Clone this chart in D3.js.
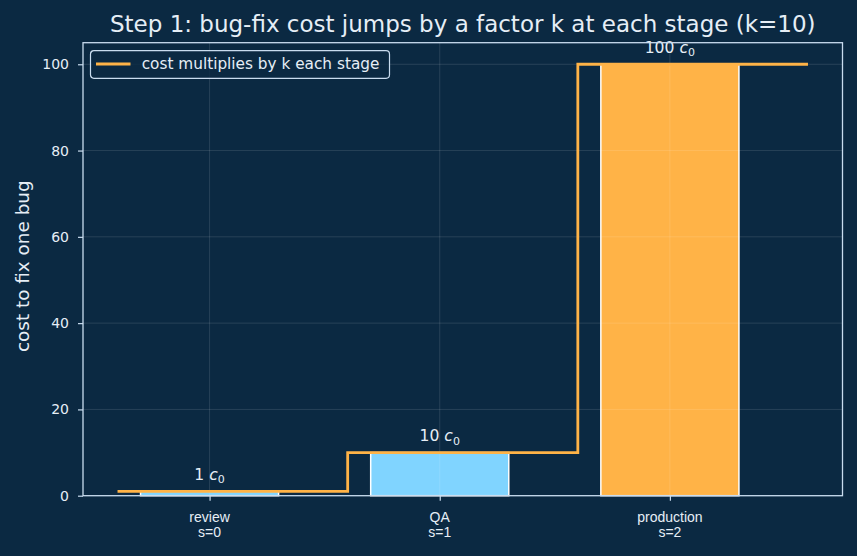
<!DOCTYPE html>
<html>
<head>
<meta charset="utf-8">
<script src="https://cdn.jsdelivr.net/npm/d3@7"></script>
<style>
  html, body { margin: 0; padding: 0; background: #0b2942; }
  svg { display: block; font-family: "DejaVu Sans", sans-serif; }
</style>
</head>
<body>
<div id="chart"></div>
<script>
// data
const stages = ["review", "QA", "production"];
const stageIdx = ["s=0", "s=1", "s=2"];
const costs = [1, 10, 100];
const costLabels = ["1", "10", "100"];
const barColors = ["#80d4ff", "#80d4ff", "#ffb347"];
// step line: edges and levels (where = post)
const stepX = [-0.4, 0.6, 1.6, 2.6];
const stepY = [1, 10, 100, 100];
const yTicks = [0, 20, 40, 60, 80, 100];

const W = 857, H = 556;
const margin = { top: 42.7, right: 857 - 842.5, bottom: 556 - 495.7, left: 83 };
const width = W - margin.left - margin.right;
const height = H - margin.top - margin.bottom;

const bg = "#0b2942";
const fg = "#e6eef6";
const spine = "#c9dcef";
const orange = "#ffb347";

const svg = d3.select("#chart").append("svg")
    .attr("width", W)
    .attr("height", H);

svg.append("rect").attr("width", W).attr("height", H).attr("fill", bg);

const g = svg.append("g")
    .attr("transform", `translate(${margin.left},${margin.top})`);

const x = d3.scaleLinear().domain([-0.55, 2.75]).range([0, width]);
const y = d3.scaleLinear().domain([0, 105]).range([height, 0]);
const barW = 0.6;

// bars
g.selectAll("rect.bar")
    .data(costs)
    .enter()
    .append("rect")
    .attr("class", "bar")
    .attr("x", (d, i) => x(i - barW / 2))
    .attr("y", d => y(d))
    .attr("width", x(barW) - x(0))
    .attr("height", d => y(0) - y(d))
    .attr("fill", (d, i) => barColors[i])
    .attr("stroke", "#ffffff")
    .attr("stroke-width", 1.5);

// grid (drawn over bars, faint)
const grid = g.append("g").attr("stroke", "#ffffff").attr("stroke-opacity", 0.15).attr("stroke-width", 0.8);
grid.selectAll("line.gy")
    .data(yTicks)
    .enter()
    .append("line")
    .attr("x1", 0).attr("x2", width)
    .attr("y1", d => y(d)).attr("y2", d => y(d));
grid.selectAll("line.gx")
    .data(stages)
    .enter()
    .append("line")
    .attr("x1", (d, i) => x(i)).attr("x2", (d, i) => x(i))
    .attr("y1", 0).attr("y2", height);

// step line
const step = d3.line()
    .x(d => x(d[0]))
    .y(d => y(d[1]))
    .curve(d3.curveStepAfter);
g.append("path")
    .datum(stepX.map((v, i) => [v, stepY[i]]))
    .attr("d", step)
    .attr("fill", "none")
    .attr("stroke", orange)
    .attr("stroke-width", 2.8);

// value labels
const lab = g.selectAll("text.val")
    .data(costs)
    .enter()
    .append("text")
    .attr("class", "val")
    .attr("x", (d, i) => x(i))
    .attr("y", d => y(d) - 11.5)
    .attr("text-anchor", "middle")
    .attr("fill", fg)
    .attr("font-size", 15.6);
lab.append("tspan").text((d, i) => costLabels[i]);
lab.append("tspan").attr("dx", 5).attr("font-style", "italic").text("c");
lab.append("tspan").attr("font-size", 11).attr("dy", 3.5).text("0");

// axes
const xAxis = g.append("g")
    .attr("transform", `translate(0,${height})`)
    .call(d3.axisBottom(x).tickValues([0, 1, 2]).tickSize(5).tickFormat(""));
xAxis.select(".domain").remove();
xAxis.selectAll("line").attr("stroke", spine).attr("stroke-width", 1.2);
stages.forEach((s, i) => {
    const t = xAxis.append("text")
        .attr("x", x(i))
        .attr("text-anchor", "middle")
        .attr("fill", fg)
        .attr("font-size", 14);
    t.append("tspan").attr("x", x(i)).attr("y", 26).text(s);
    t.append("tspan").attr("x", x(i)).attr("y", 41.6).text(stageIdx[i]);
});

const yAxis = g.append("g")
    .call(d3.axisLeft(y).tickValues(yTicks).tickSize(5).tickPadding(9));
yAxis.select(".domain").remove();
yAxis.selectAll("line").attr("stroke", spine).attr("stroke-width", 1.2);
yAxis.selectAll("text").attr("fill", fg).attr("font-size", 14).attr("font-family", "DejaVu Sans");

// frame
g.append("rect")
    .attr("width", width)
    .attr("height", height)
    .attr("fill", "none")
    .attr("stroke", spine)
    .attr("stroke-width", 1.3);

// title and y label
svg.append("text")
    .attr("x", margin.left + width / 2)
    .attr("y", 31.7)
    .attr("text-anchor", "middle")
    .attr("fill", fg)
    .attr("font-size", 23)
    .text("Step 1: bug-fix cost jumps by a factor k at each stage (k=10)");

svg.append("text")
    .attr("transform", `translate(28.5,${margin.top + height / 2 - 3}) rotate(-90)`)
    .attr("text-anchor", "middle")
    .attr("fill", fg)
    .attr("font-size", 18.4)
    .text("cost to fix one bug");

// legend
const leg = g.append("g").attr("transform", "translate(7.5,8)");
leg.append("rect")
    .attr("width", 299)
    .attr("height", 27.6)
    .attr("rx", 3.5)
    .attr("fill", bg)
    .attr("fill-opacity", 0.8)
    .attr("stroke", spine)
    .attr("stroke-width", 1.2);
leg.append("line")
    .attr("x1", 5.5).attr("x2", 40)
    .attr("y1", 13.3).attr("y2", 13.3)
    .attr("stroke", orange)
    .attr("stroke-width", 2.8);
leg.append("text")
    .attr("x", 51.2)
    .attr("y", 18.6)
    .attr("fill", fg)
    .attr("font-size", 15.3)
    .text("cost multiplies by k each stage");
</script>
</body>
</html>
